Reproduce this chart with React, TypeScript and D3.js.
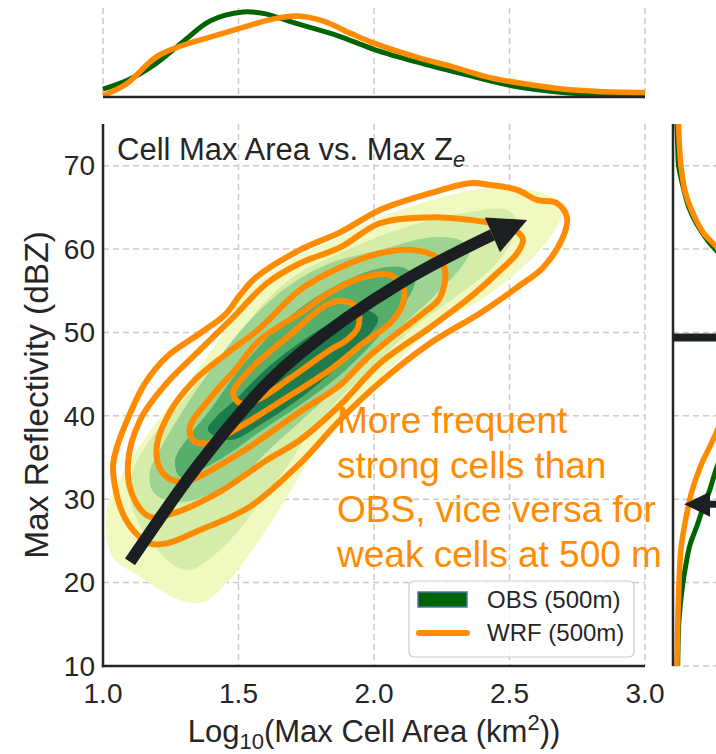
import React from 'react';
import * as d3 from 'd3';

type P = [number, number];

// ---------- axes ----------
const xTicks = [1.0, 1.5, 2.0, 2.5, 3.0];
const xTickLabels = ['1.0', '1.5', '2.0', '2.5', '3.0'];
const yTicks = [10, 20, 30, 40, 50, 60, 70];

// ---------- OBS filled KDE levels (log10 area, dBZ) ----------
const obsLevel1: P[] = [[1.018,29.3],[1.015,25.1],[1.044,22.7],[1.137,20.7],[1.221,18.9],[1.303,17.7],[1.376,17.7],[1.458,20.0],[1.542,23.5],[1.642,28.3],[1.753,34.3],[1.875,39.9],[2.022,44.5],[2.255,51.5],[2.380,53.6],[2.502,56.5],[2.601,59.5],[2.679,62.9],[2.694,64.6],[2.668,66.0],[2.613,66.8],[2.502,67.4],[2.354,67.0],[2.207,65.8],[2.022,63.8],[1.875,61.4],[1.727,59.3],[1.587,56.3],[1.506,53.9],[1.450,50.3],[1.376,46.7],[1.284,42.7],[1.199,39.3],[1.125,35.9],[1.063,32.5]];
const obsLevel2: P[] = [[1.111,33.5],[1.100,30.5],[1.129,27.3],[1.203,23.9],[1.266,22.0],[1.321,21.5],[1.387,22.7],[1.480,25.5],[1.568,29.1],[1.679,33.9],[1.764,38.1],[1.875,42.1],[2.022,46.7],[2.144,50.5],[2.306,54.4],[2.428,57.5],[2.502,60.5],[2.528,63.2],[2.491,64.7],[2.328,64.3],[2.085,62.3],[1.838,59.0],[1.708,56.8],[1.587,53.3],[1.487,49.1],[1.376,44.9],[1.266,40.7],[1.173,37.1]];
const obsLevel3: P[] = [[1.210,35.9],[1.173,33.3],[1.181,31.1],[1.229,29.9],[1.303,29.7],[1.395,30.6],[1.506,32.5],[1.605,35.7],[1.727,39.3],[1.875,43.7],[2.022,48.5],[2.207,53.9],[2.328,58.1],[2.354,59.9],[2.317,61.1],[2.207,61.4],[2.022,59.9],[1.838,58.3],[1.690,55.7],[1.561,52.1],[1.450,47.9],[1.358,43.7],[1.273,39.5]];
const obsLevel4: P[] = [[1.266,34.7],[1.284,32.7],[1.347,33.3],[1.458,35.3],[1.579,38.1],[1.727,41.3],[1.875,44.9],[2.022,49.7],[2.114,53.5],[2.151,56.3],[2.114,57.7],[2.022,57.7],[1.875,55.9],[1.727,52.9],[1.598,49.1],[1.487,44.9],[1.395,40.7],[1.321,37.7]];
const obsLevel5: P[] = [[1.387,38.3],[1.469,37.1],[1.579,38.9],[1.727,42.1],[1.875,46.1],[1.967,49.1],[2.015,51.7],[1.967,52.7],[1.875,51.7],[1.727,48.8],[1.598,45.5],[1.487,41.9],[1.413,39.7]];
const obsColors = ['#f1f8c0', '#d5eda9', '#9dd492', '#55ae69', '#1e7b4b'];

// ---------- WRF KDE contour lines ----------
const wrfLevel1: P[] = [[1.037,33.9],[1.052,36.3],[1.100,40.3],[1.155,43.9],[1.236,47.1],[1.358,49.9],[1.450,52.1],[1.506,54.5],[1.561,56.5],[1.727,59.9],[1.875,62.0],[2.022,64.7],[2.207,66.7],[2.354,67.9],[2.428,67.7],[2.528,67.1],[2.601,65.9],[2.675,65.5],[2.712,63.8],[2.697,61.4],[2.624,57.8],[2.528,55.4],[2.391,52.3],[2.207,48.7],[2.011,43.7],[1.875,39.5],[1.727,34.3],[1.542,29.1],[1.358,26.3],[1.236,24.7],[1.173,24.7],[1.111,26.3],[1.063,29.1]];
const wrfLevel2: P[] = [[1.092,34.3],[1.111,30.3],[1.173,27.9],[1.258,28.3],[1.421,30.7],[1.605,34.7],[1.727,37.1],[1.875,41.3],[2.022,46.3],[2.207,50.6],[2.354,54.2],[2.454,57.1],[2.528,59.5],[2.550,61.1],[2.531,62.0],[2.465,62.9],[2.354,63.5],[2.207,63.8],[2.022,63.1],[1.875,60.2],[1.727,58.3],[1.605,55.9],[1.480,51.8],[1.358,47.9],[1.229,43.7],[1.137,39.5]];
const wrfLevel3: P[] = [[1.199,36.5],[1.210,33.7],[1.255,32.3],[1.321,32.3],[1.421,33.9],[1.542,36.3],[1.727,40.5],[1.875,43.7],[1.967,46.7],[2.085,49.9],[2.181,52.3],[2.244,54.2],[2.262,57.5],[2.232,59.0],[2.144,59.9],[2.022,59.5],[1.875,57.8],[1.727,55.1],[1.579,50.5],[1.450,47.3],[1.339,44.3],[1.255,40.9]];
const wrfLevel4: P[] = [[1.321,38.7],[1.332,37.1],[1.384,36.7],[1.506,38.7],[1.664,41.9],[1.845,45.7],[1.959,48.7],[2.059,51.1],[2.107,53.5],[2.107,55.4],[2.059,56.9],[1.959,56.6],[1.838,54.8],[1.727,52.3],[1.579,49.1],[1.487,45.5],[1.395,42.1]];
const wrfLevel5: P[] = [[1.480,42.7],[1.506,41.5],[1.568,41.9],[1.690,44.5],[1.838,47.9],[1.900,49.1],[1.941,50.6],[1.941,52.7],[1.911,53.6],[1.838,53.5],[1.690,49.7],[1.542,45.5]];

// ---------- marginal densities ----------
const topObs: P[] = [[1.0,0.098],[1.086,0.20],[1.194,0.41],[1.301,0.70],[1.395,0.94],[1.516,1.05],[1.596,1.03],[1.703,0.92],[1.865,0.76],[1.999,0.59],[2.160,0.43],[2.334,0.28],[2.508,0.14],[2.696,0.057],[2.830,0.036],[3.0,0.028]];
const topWrf: P[] = [[1.0,0.016],[1.086,0.16],[1.194,0.49],[1.287,0.63],[1.395,0.74],[1.516,0.86],[1.623,0.96],[1.717,1.00],[1.811,0.94],[1.918,0.78],[2.012,0.65],[2.160,0.49],[2.294,0.37],[2.428,0.24],[2.562,0.16],[2.696,0.098],[2.830,0.069],[3.0,0.057]];
// [dBZ, density]
const rightObs: P[] = [[10,0.003],[15.5,0.0038],[20,0.0063],[22,0.008],[24.5,0.0107],[27,0.0155],[29,0.019],[31,0.023],[34,0.028],[37,0.035],[40,0.042],[44,0.048],[48,0.050],[52,0.047],[56,0.040],[59,0.031],[61,0.022],[63,0.015],[65,0.010],[67,0.007],[70,0.0035],[72,0.003],[75,0.0025]];
const rightWrf: P[] = [[10,0.0025],[15,0.003],[20,0.0038],[24,0.005],[26,0.0065],[29,0.0095],[31,0.012],[34,0.0175],[37,0.025],[40,0.032],[43,0.040],[46,0.045],[50,0.046],[54,0.042],[57,0.036],[60,0.0284],[62,0.019],[65,0.011],[67,0.0075],[70,0.005],[72,0.0042],[75,0.0035]];

// ---------- annotations ----------
const arrowShaft: P[] = [[1.100,22.5],[1.310,32.3],[1.506,40.3],[1.727,47.5],[2.096,55.9],[2.437,61.7]];
const arrowTip: P = [2.565, 63.5];
const barDbz = 49.4;
const pointerDbz = 29.4;
const pointerTipDensity = 0.007;
const noteLines = ['More frequent', 'strong cells than', 'OBS, vice versa for', 'weak cells at 500 m'];

const FONT = "'Liberation Sans', Arial, Helvetica, sans-serif";
const TXT = '#262626';
const ORANGE = '#ff8c00';
const GRID = '#cccccc';
const ARROW = '#1b1f22';

export default function App() {
  const W = 716, H = 754;
  const x = d3.scaleLinear().domain([1, 3]).range([103, 645]);
  const y = d3.scaleLinear().domain([10, 75]).range([666, 124]);
  const yTop = d3.scaleLinear().domain([0, 1.1]).range([97, 8]);
  const xRight = d3.scaleLinear().domain([0, 0.06]).range([673, 768]);

  const closed = d3.line<P>().x(d => x(d[0])).y(d => y(d[1])).curve(d3.curveCatmullRomClosed.alpha(0.5));
  const topLine = d3.line<P>().x(d => x(d[0])).y(d => yTop(d[1])).curve(d3.curveCatmullRom.alpha(0.5));
  const rightLine = d3.line<P>().x(d => xRight(d[1])).y(d => y(d[0])).curve(d3.curveCatmullRom.alpha(0.5));
  const shaftLine = d3.line<P>().x(d => x(d[0])).y(d => y(d[1])).curve(d3.curveNatural);

  const obsLevels = [obsLevel1, obsLevel2, obsLevel3, obsLevel4, obsLevel5];
  const wrfLevels = [wrfLevel1, wrfLevel2, wrfLevel3, wrfLevel4, wrfLevel5];

  // arrow head
  const base = arrowShaft[arrowShaft.length - 1];
  const bx = x(base[0]), by = y(base[1]);
  const tx = x(arrowTip[0]), ty = y(arrowTip[1]);
  const len = Math.hypot(tx - bx, ty - by);
  const ux = (tx - bx) / len, uy = (ty - by) / len;
  const hw = 19;
  const head = `M${tx},${ty}L${bx - uy * hw},${by + ux * hw}L${bx + uy * hw},${by - ux * hw}Z`;

  const pty = y(pointerDbz);
  const ptx = xRight(pointerTipDensity);
  const pointerHead = `M${ptx},${pty}L${ptx + 26},${pty - 12.5}L${ptx + 26},${pty + 12.5}Z`;

  return (
    <div style={{ position: 'absolute', left: 0, top: 0 }}>
      <svg width={W} height={H} style={{ display: 'block', background: '#fff' }} fontFamily={FONT}>
        <rect x={0} y={0} width={W} height={H} fill="#fff" />
        {/* ---------- top marginal ---------- */}
        {xTicks.map(t => (
          <line key={'tg' + t} x1={x(t)} x2={x(t)} y1={yTop(1.1)} y2={yTop(0)} stroke={GRID} strokeWidth={1.5} strokeDasharray="6 4" />
        ))}
        <path d={topLine(topObs) || ''} fill="none" stroke="#006400" strokeWidth={5} />
        <path d={topLine(topWrf) || ''} fill="none" stroke={ORANGE} strokeWidth={5.5} />
        <line x1={x(1)} x2={x(3)} y1={yTop(0)} y2={yTop(0)} stroke={TXT} strokeWidth={2.5} />

        {/* ---------- right marginal ---------- */}
        {yTicks.map(t => (
          <line key={'rg' + t} x1={xRight(0)} x2={W} y1={y(t)} y2={y(t)} stroke={GRID} strokeWidth={1.5} strokeDasharray="6 4" />
        ))}
        <path d={rightLine(rightObs) || ''} fill="none" stroke="#006400" strokeWidth={5} />
        <path d={rightLine(rightWrf) || ''} fill="none" stroke={ORANGE} strokeWidth={5.5} />
        <line x1={xRight(0)} x2={W + 5} y1={y(barDbz)} y2={y(barDbz)} stroke={ARROW} strokeWidth={8} />
        <line x1={ptx + 24} x2={W + 5} y1={pty} y2={pty} stroke={ARROW} strokeWidth={7} />
        <path d={pointerHead} fill={ARROW} />
        <line x1={xRight(0)} x2={xRight(0)} y1={y(75)} y2={y(10)} stroke={TXT} strokeWidth={2.5} />

        {/* ---------- main panel grid ---------- */}
        {xTicks.slice(1).map(t => (
          <line key={'xg' + t} x1={x(t)} x2={x(t)} y1={y(75)} y2={y(10)} stroke={GRID} strokeWidth={1.5} strokeDasharray="6 4" />
        ))}
        {yTicks.slice(1).map(t => (
          <line key={'yg' + t} x1={x(1)} x2={x(3)} y1={y(t)} y2={y(t)} stroke={GRID} strokeWidth={1.5} strokeDasharray="6 4" />
        ))}

        {/* OBS filled contours */}
        {obsLevels.map((lv, i) => (
          <path key={'obs' + i} d={closed(lv) || ''} fill={obsColors[i]} stroke="none" />
        ))}
        {/* WRF contour lines */}
        {wrfLevels.map((lv, i) => (
          <path key={'wrf' + i} d={closed(lv) || ''} fill="none" stroke={ORANGE} strokeWidth={6} strokeLinejoin="round" />
        ))}

        {/* big arrow */}
        <path d={shaftLine(arrowShaft) || ''} fill="none" stroke={ARROW} strokeWidth={12} />
        <path d={head} fill={ARROW} />

        {/* spines */}
        <line x1={x(1)} x2={x(1)} y1={y(75)} y2={y(10) + 1.2} stroke={TXT} strokeWidth={2.5} />
        <line x1={x(1) - 1.2} x2={x(3)} y1={y(10)} y2={y(10)} stroke={TXT} strokeWidth={2.5} />

        {/* tick labels */}
        {yTicks.map(t => (
          <text key={'yl' + t} x={95} y={y(t)} dy="0.35em" textAnchor="end" fontSize={28} fill={TXT}>{t}</text>
        ))}
        {xTicks.map((t, i) => (
          <text key={'xl' + t} x={x(t)} y={703} textAnchor="middle" fontSize={28} fill={TXT}>{xTickLabels[i]}</text>
        ))}

        {/* axis labels */}
        <text transform={`translate(36,${(y(10) + y(75)) / 2}) rotate(-90)`} textAnchor="middle" dy="0.35em" fontSize={33.5} fill={TXT}>Max Reflectivity (dBZ)</text>
        <text x={(x(1) + x(3)) / 2} y={742} textAnchor="middle" fontSize={31} fill={TXT}>
          Log<tspan fontSize={22} dy={7}>10</tspan><tspan dy={-7}>(Max Cell Area (km</tspan><tspan fontSize={22} dy={-12}>2</tspan><tspan dy={12}>))</tspan>
        </text>

        {/* title */}
        <text x={117} y={160} fontSize={31} fill={TXT}>
          Cell Max Area vs. Max Z<tspan fontSize={22} dy={7} fontStyle="italic">e</tspan>
        </text>

        {/* annotation */}
        {noteLines.map((s, i) => (
          <text key={'n' + i} x={337} y={433 + i * 44.7} fontSize={37} fill={ORANGE}>{s}</text>
        ))}

        {/* legend */}
        <rect x={409} y={581} width={225} height={76} rx={5} fill="#fff" fillOpacity={0.8} stroke="#cccccc" strokeWidth={1.2} />
        <rect x={418} y={592} width={49} height={15} fill="#006400" stroke="#4c72b0" strokeWidth={1.5} />
        <text x={487} y={600} dy="0.35em" fontSize={24} fill={TXT}>OBS (500m)</text>
        <line x1={419} x2={467} y1={633} y2={633} stroke={ORANGE} strokeWidth={6} strokeLinecap="round" />
        <text x={487} y={633} dy="0.35em" fontSize={24} fill={TXT}>WRF (500m)</text>
      </svg>
    </div>
  );
}
